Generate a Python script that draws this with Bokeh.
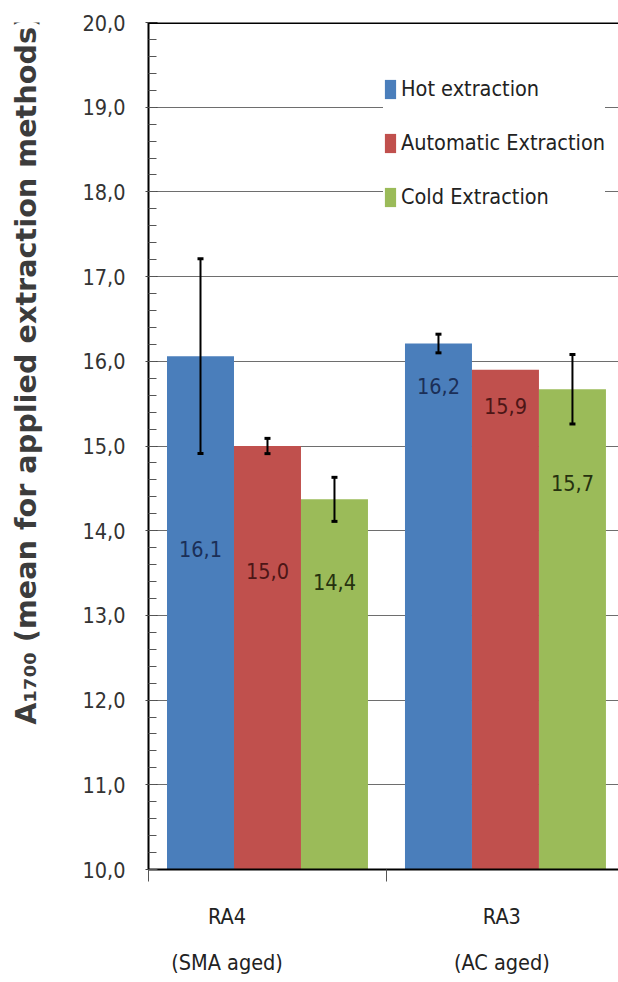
import math
from bokeh.plotting import figure
from bokeh.layouts import row
from bokeh.models import (ColumnDataSource, FixedTicker, Range1d, Whisker, TeeHead,
                          Legend, LegendItem, Span)
from bokeh.core.properties import value
from bokeh.embed import file_html
from bokeh.resources import INLINE

# ---- data -------------------------------------------------------------
samples = ["RA4\n(SMA aged)", "RA3\n(AC aged)"]
methods = ["Hot extraction", "Automatic Extraction", "Cold Extraction"]
hot = [16.06, 16.21]
automatic = [15.00, 15.90]
cold = [14.37, 15.67]
hot_err = [1.15, 0.11]
automatic_err = [0.09, 0.0]
cold_err = [0.26, 0.41]
y_ticks = [10, 11, 12, 13, 14, 15, 16, 17, 18, 19, 20]
y_tick_labels = ["10,0", "11,0", "12,0", "13,0", "14,0", "15,0",
                 "16,0", "17,0", "18,0", "19,0", "20,0"]
y_title = "A\u2081\u2087\u2080\u2080 (mean for applied extraction methods)"

# ---- styling ----------------------------------------------------------
FONT = "DejaVu Sans Condensed"
FS = "21.5px"
colors = ["#4a7ebb", "#c0504d", "#9bbb59"]
label_colors = ["#1b2f57", "#4d1616", "#26310f"]
BAR_W = 0.2815
bar_shift = [-BAR_W, 0.0, BAR_W]
# value labels sit this many pixels below the top of each bar
label_drop = [[193, 42], [125, 36], [83, 94]]
# horizontal nudge of each category caption from its group centre
caption_shift = [-0.17, -0.015]
H = 982
STRIP_W = 50          # narrow strip that carries the rotated axis title

series = [hot, automatic, cold]
errors = [hot_err, automatic_err, cold_err]
centers = [i + 0.5 for i in range(len(samples))]

# ---- strip with the value-axis title (pixel coordinates, y downward) ----
t = figure(width=STRIP_W, height=H, x_range=Range1d(0, STRIP_W), y_range=Range1d(H, 0),
           x_axis_location=None, y_axis_location=None,
           output_backend="svg", toolbar_location=None,
           min_border=0, min_border_left=0, min_border_right=0,
           min_border_top=0, min_border_bottom=0)
t.grid.grid_line_color = None
t.outline_line_color = None
t.text(x=[25], y=[402], text=[y_title], angle=math.pi / 2,
       text_align="center", text_baseline="middle",
       text_font=value("DejaVu Sans"), text_font_style="bold",
       text_font_size="28.7px", text_color="#3c3c3c")

# ---- main chart ---------------------------------------------------------
p = figure(width=618 - STRIP_W, height=H, x_range=Range1d(0, 1.975), y_range=Range1d(10, 20),
           output_backend="svg", toolbar_location=None,
           min_border_left=148 - STRIP_W, min_border_right=0,
           min_border_top=22, min_border_bottom=113)
p.outline_line_color = None
p.background_fill_color = "white"

# y axis
p.yaxis.ticker = FixedTicker(ticks=y_ticks, minor_ticks=[10 + 0.2 * k for k in range(51)])
p.yaxis.major_label_overrides = {t_: s for t_, s in zip(y_ticks, y_tick_labels)}
p.yaxis.major_label_text_font = FONT
p.yaxis.major_label_text_font_size = FS
p.yaxis.major_label_text_color = "#333333"
p.yaxis.major_label_standoff = 20
p.yaxis.axis_line_color = "black"
p.yaxis.axis_line_width = 2
p.yaxis.major_tick_in = 9
p.yaxis.major_tick_out = 3
p.yaxis.minor_tick_in = 8
p.yaxis.minor_tick_out = 0
p.yaxis.major_tick_line_color = "#444444"
p.yaxis.minor_tick_line_color = "#555555"

p.ygrid.ticker = FixedTicker(ticks=y_ticks)
p.ygrid.grid_line_color = "#6e6e6e"
p.ygrid.grid_line_width = 1
p.xgrid.grid_line_color = None

# heavy rule along the top of the plotting area
p.add_layout(Span(location=20, dimension="width", line_color="black", line_width=3))

# x axis: captions under each group, boundary marks between groups
caption_pos = [c + s for c, s in zip(centers, caption_shift)]
p.xaxis.ticker = FixedTicker(ticks=caption_pos, minor_ticks=[0, 1, 2])
p.xaxis.major_label_overrides = {x: s for x, s in zip(caption_pos, samples)}
p.xaxis.major_tick_line_color = None
p.xaxis.minor_tick_in = 0
p.xaxis.minor_tick_out = 12
p.xaxis.minor_tick_line_color = "#555555"
p.xaxis.axis_line_color = "black"
p.xaxis.axis_line_width = 2
p.xaxis.major_label_text_font = FONT
p.xaxis.major_label_text_font_size = FS
p.xaxis.major_label_text_color = "#222222"
p.xaxis.major_label_text_line_height = 1.85
p.xaxis.major_label_standoff = 22

legend_items = []
for j, name in enumerate(methods):
    xs = [c + bar_shift[j] for c in centers]
    vals = series[j]
    src = ColumnDataSource(dict(
        x=xs, top=vals,
        txt=[f"{v:.1f}".replace(".", ",") for v in vals],
        drop=label_drop[j],
    ))
    r = p.vbar(x="x", top="top", bottom=10, width=BAR_W, source=src,
               fill_color=colors[j], line_color=None)
    legend_items.append(LegendItem(label=name, renderers=[r]))
    p.text(x="x", y="top", text="txt", y_offset="drop", source=src,
           text_font=value(FONT), text_font_size=FS, text_color=label_colors[j],
           text_align="center", text_baseline="middle")

    keep = [k for k, e in enumerate(errors[j]) if e > 0]
    esrc = ColumnDataSource(dict(
        x=[xs[k] for k in keep],
        lo=[vals[k] - errors[j][k] for k in keep],
        hi=[vals[k] + errors[j][k] for k in keep],
    ))
    p.add_layout(Whisker(base="x", lower="lo", upper="hi", source=esrc, level="overlay",
                         line_color="black", line_width=2,
                         upper_head=TeeHead(size=6, line_width=3, line_color="black"),
                         lower_head=TeeHead(size=6, line_width=3, line_color="black")))

legend = Legend(items=legend_items, location=(235, 660),
                label_text_font=FONT, label_text_font_size=FS,
                label_text_color="#222222", glyph_width=14, glyph_height=24,
                label_height=24, spacing=29, padding=8, margin=0, label_standoff=4,
                border_line_color=None, background_fill_color="white",
                background_fill_alpha=1.0)
p.add_layout(legend, "center")

layout = row(t, p, spacing=0)
open("out.html", "w").write(file_html(layout, INLINE))
